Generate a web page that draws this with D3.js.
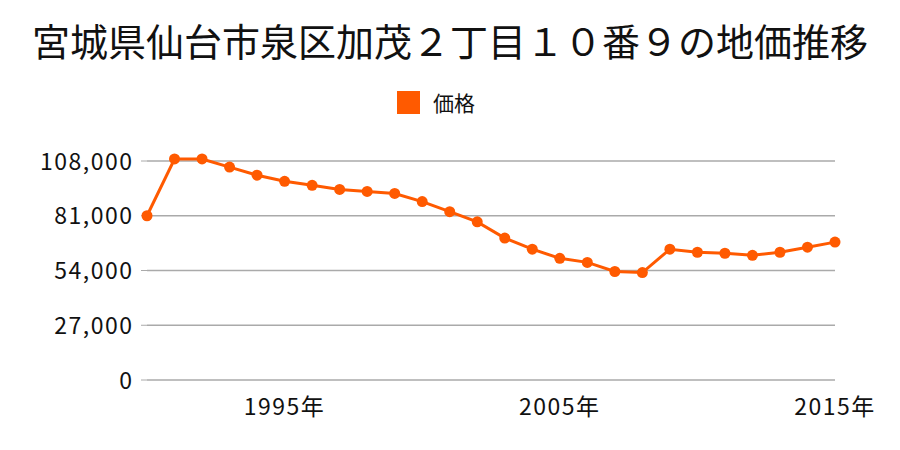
<!DOCTYPE html>
<html><head><meta charset="utf-8">
<script src="https://cdn.jsdelivr.net/npm/d3@7"></script>
<style>body{margin:0;background:#fff}text{font-family:"Noto Sans CJK JP","Noto Sans",sans-serif}</style>
</head><body>
<svg id="c" width="900" height="450"></svg>
<script>
const titleText = "宮城県仙台市泉区加茂２丁目１０番９の地価推移";
const seriesName = "価格";
const years = [1990,1991,1992,1993,1994,1995,1996,1997,1998,1999,2000,2001,2002,2003,2004,2005,2006,2007,2008,2009,2010,2011,2012,2013,2014,2015];
const prices = [81000,109000,109000,105000,101000,98000,96000,94000,93000,92000,88000,83000,78000,70000,64500,60000,58000,53500,53000,64500,63000,62500,61500,63000,65500,68000];
const yTicks = [0,27000,54000,81000,108000];
const xTicks = [1995,2005,2015];
const color = "#ff5a00";

const svg = d3.select("#c");
const x = d3.scaleLinear().domain([1990,2015]).range([147,835]);
const y = d3.scaleLinear().domain([0,108000]).range([380,161]);

svg.append("text").attr("x",450).attr("y",56).attr("text-anchor","middle")
  .attr("font-size",38).attr("fill","#111").text(titleText);

svg.append("rect").attr("x",397).attr("y",91).attr("width",23).attr("height",23).attr("fill",color);
svg.append("text").attr("x",433).attr("y",111).attr("font-size",21).attr("fill","#111").text(seriesName);

const gy = svg.append("g");
gy.selectAll("line.g").data(yTicks).join("line").attr("class","g")
  .attr("x1",147).attr("x2",835).attr("y1",d=>y(d)).attr("y2",d=>y(d))
  .attr("stroke","#aaa").attr("stroke-width",1.3);
gy.selectAll("line.t").data(yTicks).join("line").attr("class","t")
  .attr("x1",141).attr("x2",147).attr("y1",d=>y(d)).attr("y2",d=>y(d))
  .attr("stroke","#aaa").attr("stroke-width",1);
gy.selectAll("text").data(yTicks).join("text")
  .attr("x",133.5).attr("y",d=>y(d)+8.5).attr("text-anchor","end")
  .attr("font-size",23).attr("letter-spacing",1.5).attr("fill","#111").text(d=>d3.format(",")(d));

svg.append("g").selectAll("text").data(xTicks).join("text")
  .attr("x",d=>x(d)).attr("y",415).attr("text-anchor","middle")
  .attr("font-size",23).attr("letter-spacing",1.5).attr("fill","#111").text(d=>d+"年");

const pts = years.map((yr,i)=>[yr,prices[i]]);
svg.append("path").datum(pts)
  .attr("d",d3.line().x(d=>x(d[0])).y(d=>y(d[1])))
  .attr("fill","none").attr("stroke",color).attr("stroke-width",3);
svg.append("g").selectAll("circle").data(pts).join("circle")
  .attr("cx",d=>x(d[0])).attr("cy",d=>y(d[1])).attr("r",5.5).attr("fill",color);
</script>
</body></html>
